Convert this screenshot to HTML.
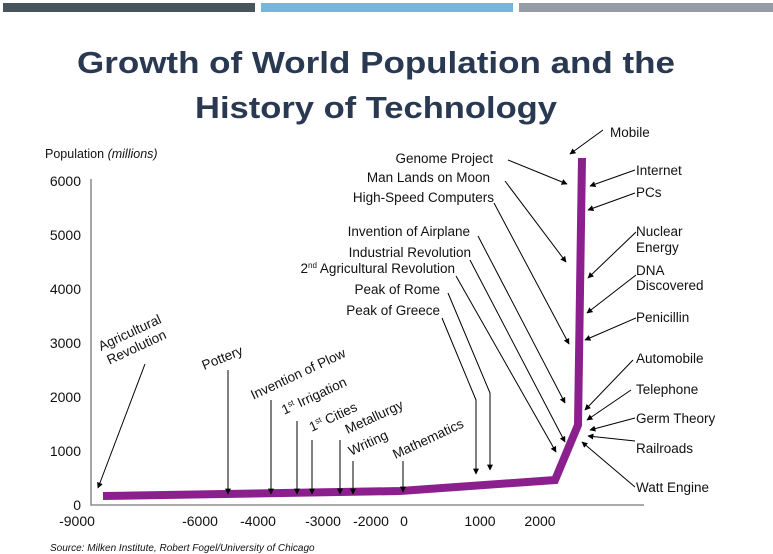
<!DOCTYPE html>
<html><head><meta charset="utf-8"><style>
body{margin:0;background:#fff;}
svg{display:block;}
text{font-family:"Liberation Sans",Arial,sans-serif;fill:#111;}
</style></head><body>
<svg width="773" height="554" viewBox="0 0 773 554" xmlns="http://www.w3.org/2000/svg">
<defs><marker id="a" viewBox="0 0 10 10" refX="9" refY="5" markerWidth="6" markerHeight="6" orient="auto"><path d="M0,0L10,5L0,10z" fill="#000"/></marker></defs>
<rect x="3" y="3" width="252" height="9" fill="#48545c"/>
<rect x="261" y="3" width="252" height="9" fill="#72b6e2"/>
<rect x="519" y="3" width="254" height="9" fill="#969ca6"/>
<text x="376" y="73" text-anchor="middle" font-size="31" font-weight="bold" style="fill:#2a3952" textLength="598" lengthAdjust="spacingAndGlyphs">Growth of World Population and the</text>
<text x="376" y="118" text-anchor="middle" font-size="31" font-weight="bold" style="fill:#2a3952" textLength="362" lengthAdjust="spacingAndGlyphs">History of Technology</text>
<text x="45" y="158" font-size="12.5">Population <tspan font-style="italic">(millions)</tspan></text>
<g font-size="14" text-anchor="end">
<text x="81" y="186">6000</text><text x="81" y="240">5000</text><text x="81" y="294">4000</text>
<text x="81" y="348">3000</text><text x="81" y="402">2000</text><text x="81" y="456">1000</text><text x="81" y="510">0</text></g>
<g font-size="14" text-anchor="middle">
<text x="77" y="526">-9000</text><text x="200" y="526">-6000</text><text x="258" y="526">-4000</text>
<text x="323" y="526">-3000</text><text x="371" y="526">-2000</text><text x="404" y="526">0</text>
<text x="480" y="526">1000</text><text x="540" y="526">2000</text></g>
<path d="M91,179V505H644" fill="none" stroke="#777" stroke-width="1.3"/>
<polyline points="103,496 400,491 555,480 578,425 582,158" fill="none" stroke="#8b1f8e" stroke-width="8"/>
<g stroke="#000" stroke-width="1" fill="none" marker-end="url(#a)">
<path d="M603,130L570,154"/><path d="M508,160L567,184"/><path d="M505,181L566,262"/>
<path d="M494,203L569,344"/><path d="M478,236L565,403"/><path d="M470,260L565,442"/>
<path d="M456,276L556,452"/><path d="M448,293L490,393V470"/><path d="M442,318L476,400V474"/>
<path d="M635,170L590,186"/><path d="M635,193L588,210"/><path d="M636,232L588,278"/>
<path d="M636,275L587,313"/><path d="M636,318L585,340"/><path d="M633,360L585,410"/>
<path d="M631,390L587,420"/><path d="M635,418L590,430"/><path d="M635,441L588,436"/>
<path d="M635,487L582,442"/>
<path d="M145,364L98,488"/><path d="M228,370V494"/><path d="M271,400V494"/><path d="M297,421V494"/>
<path d="M312,440V494"/><path d="M340,440V494"/><path d="M353,461V494"/><path d="M403,461V492"/>
</g>
<g font-size="13.5">
<text x="610" y="137">Mobile</text>
<g text-anchor="end"><text x="493" y="163">Genome Project</text><text x="490" y="182">Man Lands on Moon</text>
<text x="494" y="202">High-Speed Computers</text><text x="470" y="236">Invention of Airplane</text>
<text x="471" y="257">Industrial Revolution</text><text x="455" y="273">2<tspan font-size="8" dy="-5">nd</tspan><tspan dy="5"> Agricultural Revolution</tspan></text>
<text x="440" y="294">Peak of Rome</text><text x="440" y="315">Peak of Greece</text></g>
<text x="636" y="175">Internet</text><text x="636" y="197">PCs</text>
<text x="636" y="236">Nuclear</text><text x="636" y="252">Energy</text>
<text x="636" y="275">DNA</text><text x="636" y="290">Discovered</text>
<text x="636" y="322">Penicillin</text><text x="636" y="363">Automobile</text>
<text x="636" y="394">Telephone</text><text x="636" y="423">Germ Theory</text>
<text x="636" y="453">Railroads</text><text x="636" y="492">Watt Engine</text>
<g text-anchor="middle">
<text transform="translate(135,344) rotate(-25)"><tspan x="0" y="-8">Agricultural</tspan><tspan x="0" y="8">Revolution</tspan></text>
<text transform="translate(224,362) rotate(-22)">Pottery</text>
<text transform="translate(300,378) rotate(-25)">Invention of Plow</text>
<text transform="translate(316,400) rotate(-25)">1<tspan font-size="8" dy="-5">st</tspan><tspan dy="5"> Irrigation</tspan></text>
<text transform="translate(335,421) rotate(-25)">1<tspan font-size="8" dy="-5">st</tspan><tspan dy="5"> Cities</tspan></text>
<text transform="translate(376,421) rotate(-25)">Metallurgy</text>
<text transform="translate(370,447) rotate(-25)">Writing</text>
<text transform="translate(430,443) rotate(-25)">Mathematics</text>
</g></g>
<text x="50" y="551" font-size="10" font-style="italic">Source: Milken Institute, Robert Fogel/University of Chicago</text>
</svg>
</body></html>
